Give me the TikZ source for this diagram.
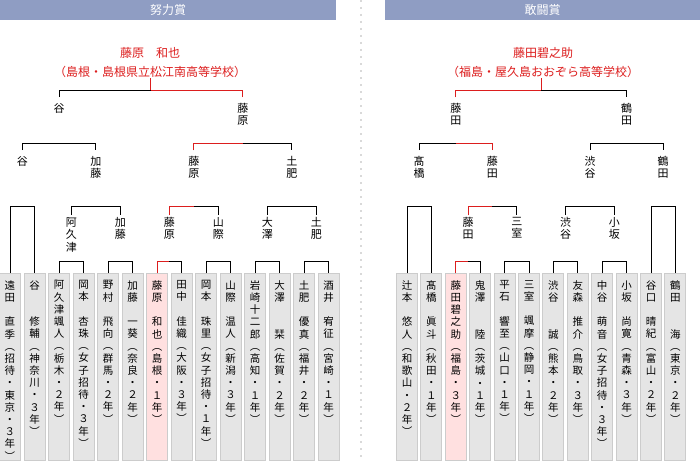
\documentclass[tikz,border=0pt]{standalone}
\usepackage{fontspec}
\setmainfont{Noto Sans CJK JP}
\usetikzlibrary{positioning, calc}

% vertical text: one character per line
\def\vtloop#1{\ifx#1\relax\else\hbox to 11pt{\hss#1\hss}\expandafter\vtloop\fi}
\newcommand{\vt}[1]{\vbox{\baselineskip=12.5pt\lineskiplimit=-20pt\vtloop#1\relax}}
\newcommand{\bt}[1]{\vbox to 183pt{\baselineskip=12.2pt\lineskiplimit=-20pt\vskip5pt\vtloop#1\relax\vss}}
% bracket between two nodes, and the red half of the winner
\newcommand{\pair}[4]{\draw[line] ([yshift=#3]#1.north) -- ++(0,-#4) -| ([yshift=#3]#2.north);}
\newcommand{\win}[4]{\draw[win] ([yshift=#3]#1.north) -- ++(0,-#4) -- ($([yshift=#3]#1.north)!.5!([yshift=#3]#2.north)+(0,-#4)$);}

\definecolor{headblue}{RGB}{143,157,195}
\definecolor{winred}{RGB}{220,30,30}

\begin{document}
\begin{tikzpicture}[x=1pt, y=-1pt,
    line/.style={line width=1pt, black},
    win/.style={line width=1pt, winred},
    head/.style={fill=headblue, text=white, minimum height=20pt, inner sep=0pt, font=\fontsize{12}{12}\selectfont},
    champ/.style={text=winred, inner sep=0pt, font=\fontsize{12}{14}\selectfont},
    lbl/.style={anchor=north, inner sep=0pt, font=\fontsize{11}{12}\selectfont},
    box/.style={anchor=north, draw=black!20, fill=black!10, line width=1pt, minimum width=21pt, inner sep=2pt, font=\fontsize{10.5}{11}\selectfont},
    boxwin/.style={box, fill=red!12}]
    \useasboundingbox (0,0) rectangle (700,460);

    \node[head, minimum width=336pt] (hL) at (168,10) {努力賞};
    \node[head, minimum width=315pt] (hR) at (542.5,10) {敢闘賞};
    \draw[black!15, line width=2pt, dash pattern=on 2pt off 5pt] (361,0) -- (361,460);

    % left: boxes
    \node[box] (L1) at (10,273) {\bt{遠田　直季︵招待・東京・３年︶}};
    \node[box] (L2) at (34.5,273) {\bt{谷　　修輔︵神奈川・３年︶}};
    \node[box] (L3) at (59,273) {\bt{阿久津颯人︵栃木・２年︶}};
    \node[box] (L4) at (83.5,273) {\bt{岡本　杏珠︵女子招待・３年︶}};
    \node[box] (L5) at (108,273) {\bt{野村　飛向︵群馬・２年︶}};
    \node[box] (L6) at (132.5,273) {\bt{加藤　一葵︵奈良・２年︶}};
    \node[boxwin] (L7) at (157,273) {\bt{藤原　和也︵島根・１年︶}};
    \node[box] (L8) at (181.5,273) {\bt{田中　佳織︵大阪・３年︶}};
    \node[box] (L9) at (206,273) {\bt{岡本　珠里︵女子招待・１年︶}};
    \node[box] (L10) at (230.5,273) {\bt{山際　温人︵新潟・３年︶}};
    \node[box] (L11) at (255,273) {\bt{岩崎十二郎︵高知・１年︶}};
    \node[box] (L12) at (279.5,273) {\bt{大澤　　栞︵佐賀・２年︶}};
    \node[box] (L13) at (304,273) {\bt{土肥　優真︵福井・２年︶}};
    \node[box] (L14) at (328.5,273) {\bt{酒井　宥征︵宮崎・１年︶}};

    % left: rounds
    \node[lbl] (l3a) at (71.25,217) {\vt{阿久津}};
    \node[lbl] (l3b) at (120.25,217) {\vt{加藤}};
    \node[lbl] (l3c) at (169.25,217) {\vt{藤原}};
    \node[lbl] (l3d) at (218.25,217) {\vt{山際}};
    \node[lbl] (l3e) at (267.25,217) {\vt{大澤}};
    \node[lbl] (l3f) at (316.25,217) {\vt{土肥}};
    \node[lbl] (l2a) at (22.25,156) {\vt{谷}};
    \node[lbl] (l2b) at (95.75,156) {\vt{加藤}};
    \node[lbl] (l2c) at (193.75,156) {\vt{藤原}};
    \node[lbl] (l2d) at (291.75,156) {\vt{土肥}};
    \node[lbl] (l1a) at (59,103) {\vt{谷}};
    \node[lbl] (l1b) at (242.75,103) {\vt{藤原}};
    \node[champ] (wL) at (150,53) {藤原　和也};
    \node[champ] (sL) at (150,72) {（島根・島根県立松江南高等学校）};

    \pair{L1}{L2}{0pt}{67}
    \pair{L3}{L4}{0pt}{12} \pair{L5}{L6}{0pt}{12} \pair{L7}{L8}{0pt}{12}
    \pair{L9}{L10}{0pt}{12} \pair{L11}{L12}{0pt}{12} \pair{L13}{L14}{0pt}{12}
    \pair{l3a}{l3b}{2pt}{9} \pair{l3c}{l3d}{2pt}{9} \pair{l3e}{l3f}{2pt}{9}
    \pair{l2a}{l2b}{6pt}{7} \pair{l2c}{l2d}{6pt}{7}
    \pair{l1a}{l1b}{6pt}{7}
    \win{L7}{L8}{0pt}{12} \win{l3c}{l3d}{2pt}{9} \win{l2c}{l2d}{6pt}{7} \win{l1b}{l1a}{6pt}{7}
    \coordinate (fL) at ($([yshift=6pt]l1a.north)!.5!([yshift=6pt]l1b.north)+(0,-7)$);
    \draw[win] (fL) -- (fL |- sL.south);

    % right: boxes
    \node[box] (R1) at (407,273) {\bt{辻本　悠人︵和歌山・２年︶}};
    \node[box] (R2) at (431.4,273) {\bt{髙橋　眞斗︵秋田・１年︶}};
    \node[boxwin] (R3) at (455.8,273) {\bt{藤田碧之助︵福島・３年︶}};
    \node[box] (R4) at (480.2,273) {\bt{鬼澤　　陸︵茨城・１年︶}};
    \node[box] (R5) at (504.6,273) {\bt{平石　響至︵山口・１年︶}};
    \node[box] (R6) at (529,273) {\bt{三室　颯摩︵静岡・１年︶}};
    \node[box] (R7) at (553.4,273) {\bt{渋谷　　誠︵熊本・２年︶}};
    \node[box] (R8) at (577.8,273) {\bt{友森　推介︵鳥取・３年︶}};
    \node[box] (R9) at (602.2,273) {\bt{中谷　萌音︵女子招待・３年︶}};
    \node[box] (R10) at (626.6,273) {\bt{小坂　尚寛︵青森・３年︶}};
    \node[box] (R11) at (651,273) {\bt{谷口　晴紀︵富山・２年︶}};
    \node[box] (R12) at (675.4,273) {\bt{鶴田　　海︵東京・２年︶}};

    % right: rounds
    \node[lbl] (r3a) at (468,217) {\vt{藤田}};
    \node[lbl] (r3b) at (516.8,217) {\vt{三室}};
    \node[lbl] (r3c) at (565.6,217) {\vt{渋谷}};
    \node[lbl] (r3d) at (614.4,217) {\vt{小坂}};
    \node[lbl] (r2a) at (419.2,156) {\vt{髙橋}};
    \node[lbl] (r2b) at (492.4,156) {\vt{藤田}};
    \node[lbl] (r2c) at (590,156) {\vt{渋谷}};
    \node[lbl] (r2d) at (663.2,156) {\vt{鶴田}};
    \node[lbl] (r1a) at (455.8,103) {\vt{藤田}};
    \node[lbl] (r1b) at (626.6,103) {\vt{鶴田}};
    \node[champ] (wR) at (543,53) {藤田碧之助};
    \node[champ] (sR) at (543,72) {（福島・屋久島おおぞら高等学校）};

    \pair{R1}{R2}{0pt}{67} \pair{R11}{R12}{0pt}{67}
    \pair{R3}{R4}{0pt}{12} \pair{R5}{R6}{0pt}{12} \pair{R7}{R8}{0pt}{12} \pair{R9}{R10}{0pt}{12}
    \pair{r3a}{r3b}{2pt}{9} \pair{r3c}{r3d}{2pt}{9}
    \pair{r2a}{r2b}{6pt}{7} \pair{r2c}{r2d}{6pt}{7}
    \pair{r1a}{r1b}{6pt}{7}
    \win{R3}{R4}{0pt}{12} \win{r3a}{r3b}{2pt}{9} \win{r2b}{r2a}{6pt}{7} \win{r1a}{r1b}{6pt}{7}
    \coordinate (fR) at ($([yshift=6pt]r1a.north)!.5!([yshift=6pt]r1b.north)+(0,-7)$);
    \draw[win] (fR) -- (fR |- sR.south);
\end{tikzpicture}
\end{document}
